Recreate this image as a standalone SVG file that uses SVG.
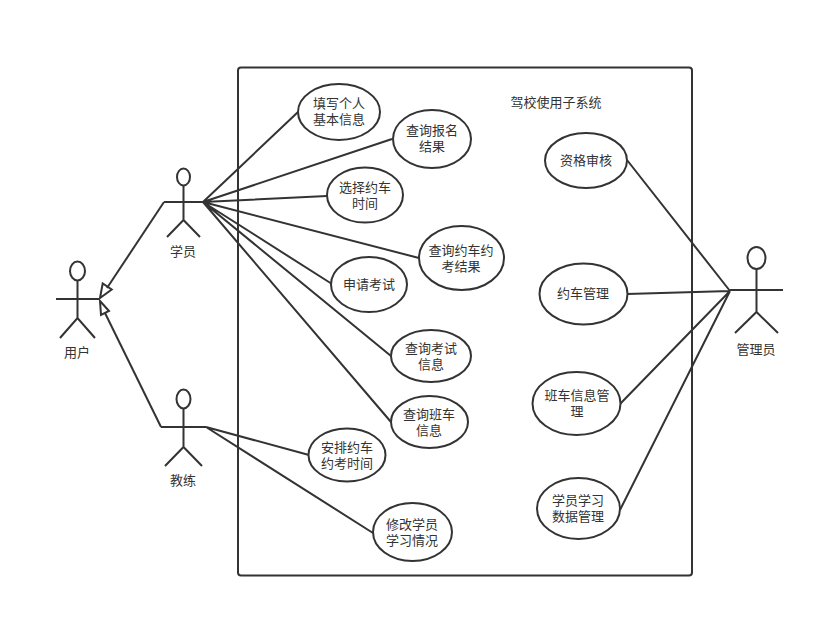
<svg xmlns="http://www.w3.org/2000/svg" width="827" height="626" viewBox="0 0 827 626">
<style>
.l{fill:none;stroke:#333;stroke-width:2}
.e{fill:#fff;stroke:#333;stroke-width:2}
text{font-family:"Noto Sans CJK SC","Liberation Sans",sans-serif;font-size:13px;fill:#333;text-anchor:middle}
</style>
<rect width="827" height="626" fill="#fff"/>
<g id="boundary"><rect x="238" y="67.500" width="454" height="508" rx="3" class="l"/><text x="556" y="107">驾校使用子系统</text></g>
<g id="connectors" class="l">
<path d="M203 202L298 112M203 202L392 139M203 202L327 196M203 202L419 258M203 202L332 284M203 202L391 356M203 202L391 422"/>
<path d="M206 427L309 455M206 427L373 533"/>
<path d="M627 160L730 291M627 294L730 291M620 404L730 291M620 510L730 291"/>
<path d="M164 202L107 288"/><path d="M161 427L105 313"/>
<path d="M100 298L102.700 283.500L111.700 289.500Z"/><path d="M100 301L109 311L101 315Z"/>
</g>
<g id="actor-user"><ellipse cx="77.500" cy="271" rx="7.500" ry="9.500" class="e"/><path d="M77.500 280V318M56 299H99M60 338L77.500 318L95 338" class="l"/><text x="77" y="357">用户</text></g>
<g id="actor-student"><ellipse cx="183.500" cy="177" rx="6.500" ry="8.500" class="e"/><path d="M183.500 186V220M164 202H203M167 237L183.500 220L200 237" class="l"/><text x="183" y="256">学员</text></g>
<g id="actor-coach"><ellipse cx="183.500" cy="399" rx="7" ry="9.500" class="e"/><path d="M183.500 408V447M161 427H206M165 466L183.500 447L202 466" class="l"/><text x="183" y="485">教练</text></g>
<g id="actor-admin"><ellipse cx="756.500" cy="258" rx="9" ry="11" class="e"/><path d="M756.500 269V312M730 290H783M735 333L756.500 312L778 333" class="l"/><text x="756" y="354">管理员</text></g>
<g id="uc1"><ellipse cx="339" cy="112" rx="41" ry="28" class="e"/><text x="339" y="108">填写个人<tspan x="339" dy="16">基本信息</tspan></text></g>
<g id="uc2"><ellipse cx="432" cy="139" rx="39" ry="29" class="e"/><text x="432" y="135">查询报名<tspan x="432" dy="16">结果</tspan></text></g>
<g id="uc3"><ellipse cx="365" cy="195" rx="38" ry="27.500" class="e"/><text x="365" y="192">选择约车<tspan x="365" dy="16">时间</tspan></text></g>
<g id="uc4"><ellipse cx="461.500" cy="258" rx="42.500" ry="32" class="e"/><text x="461" y="255">查询约车约<tspan x="461" dy="16">考结果</tspan></text></g>
<g id="uc5"><ellipse cx="369" cy="284.500" rx="38" ry="27.500" class="e"/><text x="369" y="289">申请考试</text></g>
<g id="uc6"><ellipse cx="431" cy="356" rx="40" ry="26" class="e"/><text x="431" y="353">查询考试<tspan x="431" dy="16">信息</tspan></text></g>
<g id="uc7"><ellipse cx="429.500" cy="422" rx="38.500" ry="26" class="e"/><text x="429" y="419">查询班车<tspan x="429" dy="16">信息</tspan></text></g>
<g id="uc8"><ellipse cx="347" cy="455" rx="38.500" ry="26.500" class="e"/><text x="347" y="452">安排约车<tspan x="347" dy="16">约考时间</tspan></text></g>
<g id="uc9"><ellipse cx="412.500" cy="532" rx="39.500" ry="29" class="e"/><text x="412" y="529">修改学员<tspan x="412" dy="16">学习情况</tspan></text></g>
<g id="uc10"><ellipse cx="586" cy="160.500" rx="41" ry="27.500" class="e"/><text x="586" y="165">资格审核</text></g>
<g id="uc11"><ellipse cx="583.500" cy="294" rx="44" ry="30.500" class="e"/><text x="583" y="298">约车管理</text></g>
<g id="uc12"><ellipse cx="576.500" cy="403.500" rx="44" ry="31.500" class="e"/><text x="577" y="400">班车信息管<tspan x="577" dy="16">理</tspan></text></g>
<g id="uc13"><ellipse cx="578.500" cy="508.500" rx="41.500" ry="30.500" class="e"/><text x="578" y="505">学员学习<tspan x="578" dy="16">数据管理</tspan></text></g>
</svg>
